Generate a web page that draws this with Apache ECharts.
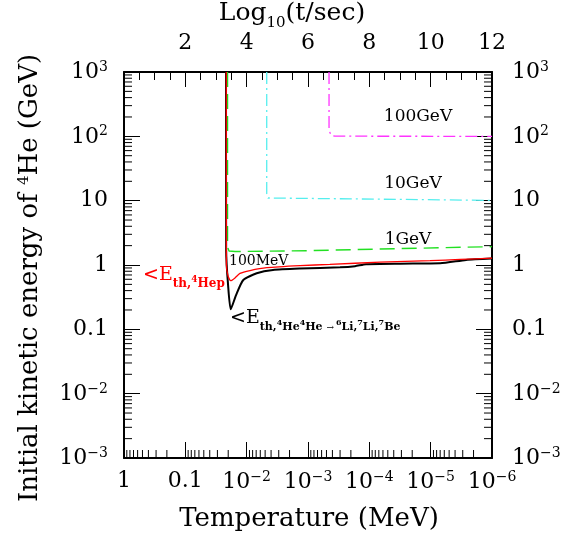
<!DOCTYPE html>
<html><head><meta charset="utf-8">
<script src="https://cdn.jsdelivr.net/npm/echarts@6/dist/echarts.min.js"></script>
<style>html,body{margin:0;padding:0;background:#fff}#c{width:564px;height:539px}</style>
</head><body><div id="c"></div>
<script>
// ---- data (Temperature in MeV, Energy in GeV) ----
const tempBlack = [0.0217, 0.0216, 0.0201, 0.0182, 0.0149, 0.01135, 0.00686, 0.00372, 0.00135, 3.0e-4, 1.71e-4, 1.13e-4, 3.16e-5, 7.0e-6, 2.65e-6, 1e-6];
const energyBlack = [1000, 1.7, 0.49, 0.205, 0.34, 0.585, 0.743, 0.836, 0.88, 0.92, 0.96, 1.03, 1.05, 1.06, 1.2, 1.26];
const tempRed = [0.0215, 0.0214, 0.0201, 0.0182, 0.0155, 0.01285, 0.00883, 0.00471, 0.00135, 4.4e-4, 6.7e-5, 1.02e-5, 3.3e-6, 1e-6];
const energyRed = [1000, 1.0, 0.67, 0.57, 0.63, 0.74, 0.82, 0.91, 0.98, 1.02, 1.11, 1.17, 1.22, 1.28];
const tempGreen = [0.0205, 0.0205, 0.0194, 0.0155, 0.001, 3.16e-5, 1e-6];
const energyGreen = [1000, 1.9, 1.65, 1.62, 1.67, 1.80, 1.93];
const tempCyan = [0.00471, 0.00471, 0.00449, 0.00417, 1e-6];
const energyCyan = [1000, 13, 11, 10.3, 10.1];
const tempMagenta = [4.54e-4, 4.54e-4, 4.22e-4, 3.63e-4, 1e-6];
const energyMagenta = [1000, 125, 104, 100.5, 100];
const decades = [-6, -5, -4, -3, -2, -1, 0, 1, 2];
const minorMult = [2, 3, 4, 5, 6, 7, 8, 9];

const pair = (t, e) => t.map((v, i) => [v, e[i]]);
const FONT = '"DejaVu Serif", "Liberation Serif", serif';

function minorVals(lo, hi) {
  const out = [];
  decades.forEach(d => minorMult.forEach(m => {
    const v = m * Math.pow(10, d);
    if (v > lo && v < hi) out.push(v);
  }));
  return out;
}
const minorX = minorVals(1e-6, 1);
const minorY = minorVals(1e-3, 1e3);

function logLabel(v) {
  const e = Math.round(Math.log10(v));
  if (e === 0) return '{b|1}';
  if (e === 1) return '{b|10}';
  if (e === -1) return '{b|0.1}';
  return '{b|10}{sup|' + (e < 0 ? '\u2212' + (-e) : e) + '}';
}
const labelRich = {
  b: { fontFamily: FONT, fontSize: 22, color: '#000', verticalAlign: 'bottom' },
  sup: { fontFamily: FONT, fontSize: 14, color: '#000', verticalAlign: 'bottom', padding: [0, 0, 9, 0] }
};

function tickRect(x, y, w, h) {
  return { type: 'rect', shape: { x, y, width: w, height: h }, style: { fill: '#000' } };
}

const chart = echarts.init(document.getElementById('c'));

const option = {
  animation: false,
  backgroundColor: '#fff',
  grid: { left: 124, right: 72, top: 72, bottom: 81, containLabel: false },
  xAxis: [
    { type: 'log', logBase: 10, min: 1e-6, max: 1, inverse: true, interval: 1, position: 'bottom',
      axisLine: { show: true, onZero: false, lineStyle: { color: '#000', width: 2 } },
      axisTick: { show: true, inside: true, length: 16, lineStyle: { color: '#000', width: 1 } },
      splitLine: { show: false },
      axisLabel: { margin: 12, formatter: logLabel, rich: labelRich, showMinLabel: true, showMaxLabel: true } },
    { type: 'value', min: 0, max: 12, interval: 2, position: 'top',
      axisLine: { show: true, onZero: false, lineStyle: { color: '#000', width: 2 } },
      axisTick: { show: true, inside: true, length: 15, lineStyle: { color: '#000', width: 1 } },
      minorTick: { show: true, splitNumber: 4, length: 8, lineStyle: { color: '#000', width: 1 } },
      splitLine: { show: false }, minorSplitLine: { show: false },
      axisLabel: { margin: 18, fontFamily: FONT, fontSize: 22, color: '#000',
        formatter: v => (v === 0 ? '' : String(v)) } }
  ],
  yAxis: [
    { type: 'log', logBase: 10, min: 1e-3, max: 1e3, interval: 1, position: 'left',
      axisLine: { show: true, onZero: false, lineStyle: { color: '#000', width: 2 } },
      axisTick: { show: true, inside: true, length: 16, lineStyle: { color: '#000', width: 1 } },
      splitLine: { show: false },
      axisLabel: { margin: 16, formatter: logLabel, rich: labelRich, showMinLabel: true, showMaxLabel: true } },
    { type: 'log', logBase: 10, min: 1e-3, max: 1e3, interval: 1, position: 'right',
      axisLine: { show: true, onZero: false, lineStyle: { color: '#000', width: 2 } },
      axisTick: { show: true, inside: true, length: 16, lineStyle: { color: '#000', width: 1 } },
      splitLine: { show: false },
      axisLabel: { margin: 20, formatter: logLabel, rich: labelRich, showMinLabel: true, showMaxLabel: true } }
  ],
  series: [
    {
      type: 'custom', data: [[0.01, 1]], clip: false, xAxisIndex: 0, yAxisIndex: 0, z: 10,
      renderItem: (params, api) => {
        const cs = params.coordSys;
        const left = cs.x, right = cs.x + cs.width, bottom = cs.y + cs.height;
        const children = [];
        minorY.forEach(v => {
          const py = api.coord([0.01, v])[1];
          children.push(tickRect(left, py - 0.5, 8, 1));
          children.push(tickRect(right - 8, py - 0.5, 8, 1));
        });
        minorX.forEach(v => {
          const px = api.coord([v, 1])[0];
          children.push(tickRect(px - 0.5, bottom - 8, 1, 8));
        });
        return { type: 'group', children };
      }
    },
    { type: 'line', name: '100GeV', data: pair(tempMagenta, energyMagenta), showSymbol: false, symbol: 'none', clip: true,
      lineStyle: { color: '#ff33ff', width: 1.3, type: [12, 4, 2, 4] } },
    { type: 'line', name: '10GeV', data: pair(tempCyan, energyCyan), showSymbol: false, symbol: 'none', clip: true,
      lineStyle: { color: '#55eeee', width: 1.3, type: [12, 4, 2, 4] } },
    { type: 'line', name: '1GeV', data: pair(tempGreen, energyGreen), showSymbol: false, symbol: 'none', clip: true,
      lineStyle: { color: '#22e022', width: 1.4, type: [15, 7] } },
    { type: 'line', name: 'black', data: pair(tempBlack, energyBlack), showSymbol: false, symbol: 'none', clip: true,
      smooth: 0.2, lineStyle: { color: '#000', width: 2 } },
    { type: 'line', name: 'red', data: pair(tempRed, energyRed), showSymbol: false, symbol: 'none', clip: true,
      smooth: 0.2, lineStyle: { color: '#ff0000', width: 1.3 } }
  ],
  graphic: [
    { type: 'text', x: 309, y: 519, style: { text: 'Temperature (MeV)', font: '26px ' + FONT, fill: '#000', align: 'center', verticalAlign: 'middle' } },
    { type: 'text', x: 292, y: 16, style: {
        text: '{b|Log}{s|10}{b|(t/sec)}', align: 'center', verticalAlign: 'middle',
        rich: { b: { fontFamily: FONT, fontSize: 25, fill: '#000', verticalAlign: 'bottom', padding: [0, 0, 5, 0] },
                s: { fontFamily: FONT, fontSize: 15, fill: '#000', verticalAlign: 'bottom' } } } },
    { type: 'text', x: 30, y: 278, rotation: Math.PI / 2, style: {
        text: '{b|Initial kinetic energy of }{s|4}{b|He (GeV)}', align: 'center', verticalAlign: 'middle',
        rich: { b: { fontFamily: FONT, fontSize: 26, fill: '#000', verticalAlign: 'bottom' },
                s: { fontFamily: FONT, fontSize: 15, fill: '#000', verticalAlign: 'bottom', padding: [0, 0, 11, 0] } } } },
    { type: 'text', x: 418, y: 117, style: { text: '100GeV', font: '17px ' + FONT, fill: '#000', align: 'center', verticalAlign: 'middle' } },
    { type: 'text', x: 413, y: 184, style: { text: '10GeV', font: '17px ' + FONT, fill: '#000', align: 'center', verticalAlign: 'middle' } },
    { type: 'text', x: 408, y: 240, style: { text: '1GeV', font: '17px ' + FONT, fill: '#000', align: 'center', verticalAlign: 'middle' } },
    { type: 'text', x: 229, y: 261, style: { text: '100MeV', font: '14px ' + FONT, fill: '#000', align: 'left', verticalAlign: 'middle' } },
    { type: 'text', x: 143, y: 278, style: {
        text: '{m|<E}{s|th,}{ss|4}{s|Hep}', align: 'left', verticalAlign: 'middle',
        rich: { m: { fontFamily: FONT, fontSize: 19, fill: '#ff0000', verticalAlign: 'bottom', padding: [0, 0, 5, 0] },
                s: { fontFamily: FONT, fontSize: 12, fontWeight: 'bold', fill: '#ff0000', verticalAlign: 'bottom' },
                ss: { fontFamily: FONT, fontSize: 9, fontWeight: 'bold', fill: '#ff0000', verticalAlign: 'bottom', padding: [0, 0, 6, 0] } } } },
    { type: 'text', x: 230, y: 321, style: {
        text: '{m|<E}{s|th,}{ss|4}{s|He}{ss|4}{s|He }{ar|\u2192}{ss|6}{s|Li,}{ss|7}{s|Li,}{ss|7}{s|Be}', align: 'left', verticalAlign: 'middle',
        rich: { m: { fontFamily: FONT, fontSize: 19, fill: '#000', verticalAlign: 'bottom', padding: [0, 0, 5, 0] },
                s: { fontFamily: FONT, fontSize: 11, fontWeight: 'bold', fill: '#000', verticalAlign: 'bottom' },
                ar: { fontFamily: FONT, fontSize: 9, fill: '#000', verticalAlign: 'bottom', padding: [0, 2, 1, 0] },
                ss: { fontFamily: FONT, fontSize: 8, fontWeight: 'bold', fill: '#000', verticalAlign: 'bottom', padding: [0, 0, 6, 0] } } } }
  ]
};
chart.setOption(option);
</script></body></html>
